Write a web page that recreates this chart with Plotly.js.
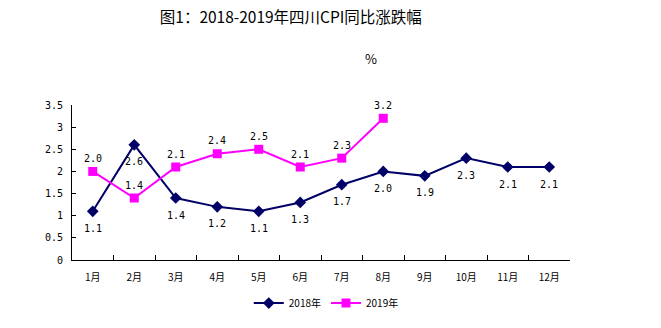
<!DOCTYPE html>
<html><head><meta charset="utf-8">
<script src="https://cdn.plot.ly/plotly-3.0.1.min.js"></script>
<style>html,body{margin:0;padding:0;background:#fff;}#chart{width:661px;height:328px;}</style>
</head><body><div id="chart"></div>
<script>
const months = ["1月","2月","3月","4月","5月","6月","7月","8月","9月","10月","11月","12月"];
const cpi2018 = [1.1,2.6,1.4,1.2,1.1,1.3,1.7,2.0,1.9,2.3,2.1,2.1];
const months2019 = ["1月","2月","3月","4月","5月","6月","7月","8月"];
const cpi2019 = [2.0,1.4,2.1,2.4,2.5,2.1,2.3,3.2];
const yTicks = [0,0.5,1,1.5,2,2.5,3,3.5];
const yTickText = ["0","0.5","1","1.5","2","2.5","3","3.5"];

const labelFont = {family:"DejaVu Sans Mono, monospace", size:10, color:"#000"};
const traces = [
  {x:months, y:cpi2018, name:"2018年", type:"scatter", mode:"lines+markers",
   line:{color:"#000066", width:2}, marker:{symbol:"diamond", size:9, color:"#000066"}},
  {x:months2019, y:cpi2019, name:"2019年", type:"scatter", mode:"lines+markers",
   line:{color:"#FF00FF", width:2}, marker:{symbol:"square", size:9, color:"#FF00FF"}}
];
const annotations = [];
cpi2018.forEach((v,i)=>annotations.push({x:months[i], y:v, xref:"x", yref:"y", text:v.toFixed(1),
  showarrow:false, yshift:-17, font:labelFont}));
cpi2019.forEach((v,i)=>annotations.push({x:months2019[i], y:v, xref:"x", yref:"y", text:v.toFixed(1),
  showarrow:false, yshift:13, font:labelFont}));
annotations.push({text:"%", xref:"paper", yref:"paper", x:0.6, y:1.3, xanchor:"center", yanchor:"middle",
  showarrow:false, font:{family:"Noto Sans CJK SC", size:13, color:"#000"}});

const layout = {
  width:661, height:328,
  margin:{l:72, r:91, t:105, b:67},
  paper_bgcolor:"#fff", plot_bgcolor:"#fff",
  title:{text:"图1：2018-2019年四川CPI同比涨跌幅", x:0.44, xanchor:"center", y:0.945, yanchor:"middle",
         font:{family:"Noto Sans CJK SC", size:15.5, color:"#000"}},
  xaxis:{type:"category", categoryarray:months, categoryorder:"array", range:[-0.5,11.5],
         showline:true, linecolor:"#000", linewidth:1, ticks:"inside", ticklen:5, tickcolor:"#000",
         tickson:"boundaries", showgrid:false, zeroline:false, ticklabelstandoff:8,
         tickfont:{family:"Noto Sans CJK SC", size:10, color:"#000"}},
  yaxis:{range:[0,3.5], tickvals:yTicks, ticktext:yTickText, showline:true, linecolor:"#000", linewidth:1,
         ticks:"inside", ticklen:4, tickcolor:"#000", showgrid:false, zeroline:false,
         tickfont:{family:"DejaVu Sans Mono, monospace", size:10, color:"#000"}, ticklabelstandoff:6},
  showlegend:true,
  legend:{orientation:"h", x:0.355, xanchor:"left", y:-0.27, yanchor:"middle",
          font:{family:"Noto Sans CJK SC", size:10, color:"#000"}, itemwidth:30, tracegroupgap:0},
  annotations:annotations
};
Plotly.newPlot("chart", traces, layout, {displayModeBar:false, staticPlot:true});
</script></body></html>
